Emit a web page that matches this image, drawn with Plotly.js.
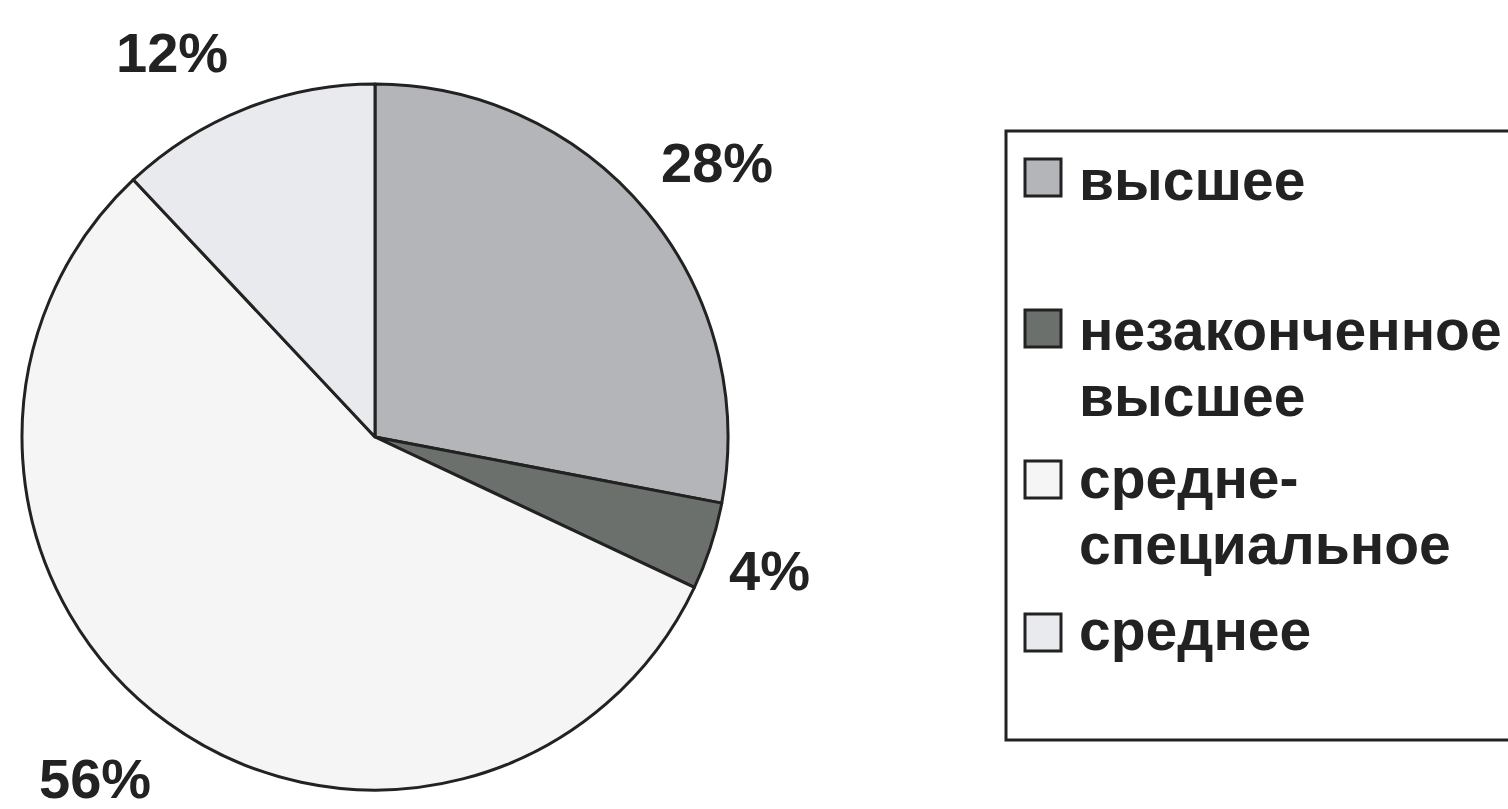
<!DOCTYPE html>
<html>
<head>
<meta charset="utf-8">
<script src="https://cdn.plot.ly/plotly-3.0.1.min.js"></script>
<style>html,body{margin:0;padding:0;background:#fff;}#chart{width:1508px;height:809px;}</style>
</head>
<body>
<div id="chart"></div>
<script>
const categories = ["высшее", "незаконченное высшее", "средне-специальное", "среднее"];
const legendLabels = ["высшее", "незаконченное<br>высшее", "средне-<br>специальное", "среднее"];
const values = [28, 4, 56, 12];
const colors = ["#b3b5b8", "#6c706d", "#f5f5f5", "#e9eaee"];

const W = 1508, H = 809;
const px = x => x / W;
const py = y => 1 - y / H;
const FONT = "Liberation Sans, Arial, sans-serif";
const INK = "#222222";

// percent label placements (pixel centers) per slice
const labelPos = [[717, 162], [769, 570], [95, 778], [172, 52]];

const annotations = [];
values.forEach((v, i) => {
  annotations.push({
    xref: "paper", yref: "paper",
    x: px(labelPos[i][0]), y: py(labelPos[i][1]),
    xanchor: "center", yanchor: "middle",
    text: "<b>" + v + "%</b>", showarrow: false,
    font: {family: FONT, size: 56, color: INK}
  });
});

// custom legend
const shapes = [{
  type: "rect", xref: "paper", yref: "paper",
  x0: px(1006), x1: px(1530), y0: py(131), y1: py(740),
  line: {color: INK, width: 3}, fillcolor: "rgba(0,0,0,0)"
}];
const markerTop = [159, 310, 461, 614];
const firstLineCenter = [180, 330, 478, 630];
const lineGap = 66;
legendLabels.forEach((lab, i) => {
  shapes.push({
    type: "rect", xref: "paper", yref: "paper",
    x0: px(1025), x1: px(1061), y0: py(markerTop[i]), y1: py(markerTop[i] + 37),
    line: {color: INK, width: 3}, fillcolor: colors[i]
  });
  lab.split("<br>").forEach((ln, j) => {
    annotations.push({
      xref: "paper", yref: "paper",
      x: px(1077), y: py(firstLineCenter[i] + j * lineGap),
      xanchor: "left", yanchor: "middle",
      text: "<b>" + ln + "</b>", showarrow: false,
      font: {family: FONT, size: 57, color: INK}
    });
  });
});

const trace = {
  type: "pie",
  labels: categories,
  values: values,
  sort: false,
  direction: "clockwise",
  rotation: 0,
  textinfo: "none",
  hoverinfo: "label+percent",
  marker: {colors: colors, line: {color: INK, width: 3}},
  domain: {x: [px(22), px(728)], y: [py(790), py(84)]},
  showlegend: false
};

const layout = {
  width: W, height: H,
  margin: {l: 0, r: 0, t: 0, b: 0},
  paper_bgcolor: "#ffffff",
  showlegend: false,
  shapes: shapes,
  annotations: annotations
};

Plotly.newPlot("chart", [trace], layout, {displayModeBar: false, staticPlot: true});
</script>
</body>
</html>
